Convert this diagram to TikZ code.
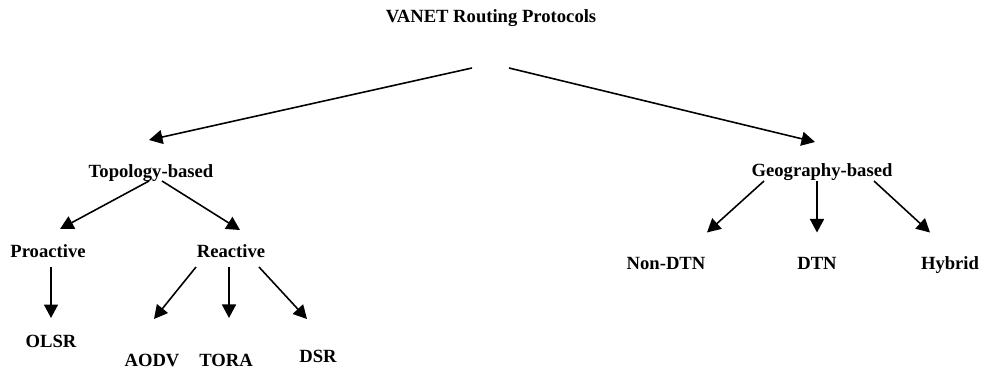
\documentclass[tikz,border=0pt]{standalone}
\usepackage{fontspec}
\setmainfont{Liberation Serif}
\usepackage{tikz}
\usetikzlibrary{arrows.meta}

\begin{document}
\begin{tikzpicture}[
  etiqueta/.style={font=\fontsize{10.6}{12}\selectfont\bfseries, anchor=base,
                   inner sep=0pt},
  flecha/.style={line width=0.9pt, -{Triangle[length=2.7mm, width=2.8mm]}},
]
\useasboundingbox (0,0) rectangle (19.64,7.42);
% ---- Raiz -----------------------------------------------------------------
\node[etiqueta] (raiz) at (9.82,6.96) {VANET Routing Protocols};
\node[etiqueta] (topo) at (3.02,3.86) {Topology-based};
\node[etiqueta] (geo) at (16.44,3.88) {Geography-based};
\draw[flecha] ([shift={(-0.38,-0.9)}]raiz.base) -- ([shift={(-0.04,0.76)}]topo.base);
\draw[flecha] ([shift={(0.36,-0.9)}]raiz.base) -- ([shift={(-0.14,0.70)}]geo.base);
% ---- Topology-based -------------------------------------------------------
\node[etiqueta] (pro) at (0.96,2.26) {Proactive};
\node[etiqueta] (rea) at (4.62,2.26) {Reactive};
\draw[flecha] ([shift={(-0.04,-0.06)}]topo.base) -- ([shift={(0.24,0.58)}]pro.base);
\draw[flecha] ([shift={(0.22,-0.06)}]topo.base) -- ([shift={(0.18,0.56)}]rea.base);
\node[etiqueta] (olsr) at (1.02,0.48) {OLSR};
\draw[flecha] ([shift={(0.06,-0.18)}]pro.base) -- ([shift={(0,0.58)}]olsr.base);
\node[etiqueta] (aodv) at (3.04,0.10) {AODV};
\node[etiqueta] (tora) at (4.52,0.10) {TORA};
\node[etiqueta] (dsr) at (6.36,0.18) {DSR};
\foreach \hijo/\sx/\ex/\ey in {aodv/-0.70/0.04/0.94, tora/-0.04/0.06/0.96,
                               dsr/0.56/-0.22/0.86} {
  \draw[flecha] ([shift={(\sx,-0.18)}]rea.base) -- ([shift={(\ex,\ey)}]\hijo.base);
}
% ---- Geography-based ------------------------------------------------------
\node[etiqueta] (nodtn) at (13.32,2.04) {Non-DTN};
\node[etiqueta] (dtn) at (16.34,2.04) {DTN};
\node[etiqueta] (hibrido) at (19.00,2.04) {Hybrid};
\foreach \hijo/\sx/\ex in {nodtn/-1.16/0.82, dtn/-0.10/0, hibrido/1.04/-0.40} {
  \draw[flecha] ([shift={(\sx,-0.08)}]geo.base) -- ([shift={(\ex,0.73)}]\hijo.base);
}
\end{tikzpicture}
\end{document}
